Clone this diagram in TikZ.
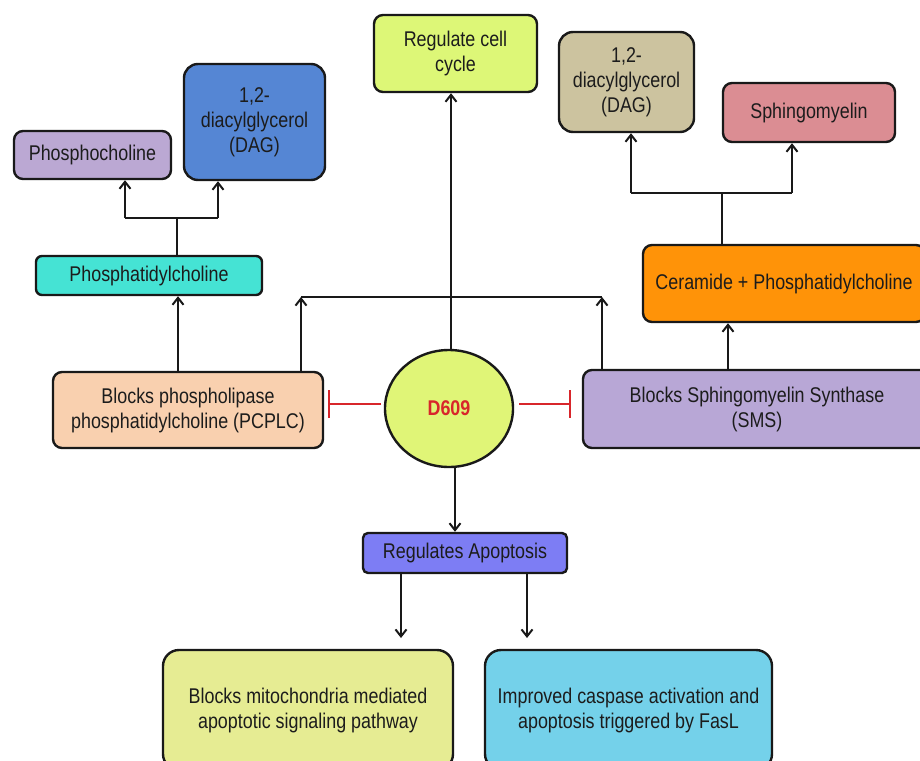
\documentclass[tikz,border=0pt]{standalone}
\usepackage{fontspec}
\setmainfont{Liberation Sans}[FakeStretch=0.84]
\usetikzlibrary{arrows.meta,shapes.geometric}
\definecolor{cPhc}{HTML}{BBA8D3}
\definecolor{cDagL}{HTML}{5586D4}
\definecolor{cPtc}{HTML}{45E3D4}
\definecolor{cCC}{HTML}{DDF777}
\definecolor{cDagR}{HTML}{CCC39F}
\definecolor{cSph}{HTML}{DB8D93}
\definecolor{cCer}{HTML}{FF9308}
\definecolor{cPcplc}{HTML}{F9D0AF}
\definecolor{cD}{HTML}{E0F577}
\definecolor{cSms}{HTML}{B8A7D6}
\definecolor{cRa}{HTML}{7D7DF4}
\definecolor{cBl}{HTML}{E6EC93}
\definecolor{cBr}{HTML}{74D1EA}
\definecolor{cTxt}{HTML}{1C1C1C}
\definecolor{cRed}{HTML}{D8262B}
\begin{document}
\begin{tikzpicture}[x=1pt,y=-1pt,
  box/.style={draw=black!90,line width=2.4pt,rounded corners=9pt,align=center,
    text=cTxt,inner sep=0pt,font=\fontsize{21.3}{25}\selectfont},
  line/.style={draw=black!90,line width=2pt},
  arr/.style={line,-{Straight Barb[length=7pt,width=11pt,line width=2pt]}},
  inh/.style={draw=cRed,line width=2pt,-{Bar[width=28pt,line width=2pt]}}]
\useasboundingbox (0,0) rectangle (920,760);
% nodes
\node[box,fill=cPhc,minimum width=157pt,minimum height=48pt] (phc) at (92.5,155) {Phosphocholine};
\node[box,fill=cDagL,minimum width=141pt,minimum height=116pt,rounded corners=14pt] (dagL) at (254.5,122) {1,2-\\diacylglycerol\\(DAG)};
\node[box,fill=cPtc,minimum width=226pt,minimum height=39pt,rounded corners=6pt] (ptc) at (149,275.5) {Phosphatidylcholine};
\node[box,fill=cCC,minimum width=163pt,minimum height=77pt] (cc) at (455.5,53.5) {Regulate cell\\cycle};
\node[box,fill=cDagR,minimum width=135pt,minimum height=100pt,rounded corners=14pt] (dagR) at (626.5,82) {1,2-\\diacylglycerol\\(DAG)};
\node[box,fill=cSph,minimum width=172pt,minimum height=59pt] (sph) at (809,112.5) {Sphingomyelin};
\node[box,fill=cCer,minimum width=282pt,minimum height=77pt] (cer) at (784,283.5) {Ceramide + Phosphatidylcholine};
\node[box,fill=cPcplc,minimum width=270pt,minimum height=76pt] (pcplc) at (188,410) {Blocks phospholipase\\phosphatidylcholine (PCPLC)};
\node[box,fill=cSms,minimum width=348pt,minimum height=78pt] (sms) at (757,409) {Blocks Sphingomyelin Synthase\\(SMS)};
\node[ellipse,draw=black!90,line width=2.4pt,fill=cD,minimum width=128pt,minimum height=117pt,inner sep=0pt,
  text=cRed,font=\fontsize{21.3}{25}\selectfont\bfseries] (d) at (449,408.5) {D609};
\node[box,fill=cRa,minimum width=204pt,minimum height=40pt,rounded corners=5pt] (ra) at (465,553) {Regulates Apoptosis};
\node[box,fill=cBl,minimum width=290pt,minimum height=120pt,rounded corners=16pt] (bl) at (308,710) {Blocks mitochondria mediated\\apoptotic signaling pathway};
\node[box,fill=cBr,minimum width=287pt,minimum height=120pt,rounded corners=16pt] (br) at (628.5,710) {Improved caspase activation and\\apoptosis triggered by FasL};
% coordinates
\coordinate (j1) at (177,218);
\coordinate (j1L) at (125,218);
\coordinate (j1R) at (218,218);
\coordinate (j2) at (722,193);
\coordinate (j2L) at (631,193);
\coordinate (j2R) at (792,193);
\coordinate (hL) at (301,297);
\coordinate (hR) at (602,297);
\coordinate (pc1) at (178,0);
\coordinate (sm1) at (728,0);
\coordinate (dT) at (451,0);
\coordinate (dB) at (455,0);
\coordinate (iL) at (381,404);
\coordinate (iLe) at (328,404);
\coordinate (iR) at (519,404);
\coordinate (iRe) at (571,404);
\coordinate (aL) at (401,638);
\coordinate (aR) at (527,638);
% connectors left
\draw[line] (ptc.north -| j1) -- (j1);
\draw[line] (j1L) -- (j1R);
\draw[arr] (j1L) -- (j1L |- phc.south);
\draw[arr] (j1R) -- (j1R |- dagL.south);
\draw[arr] (pcplc.north -| pc1) -- (pc1 |- ptc.south);
\draw[arr] (pcplc.north -| hL) -- (hL);
\draw[arr] (sms.north -| hR) -- (hR);
\draw[line] (hL) -- (hR);
\draw[arr] (d.north -| dT) -- (dT |- cc.south);
% right
\draw[arr] (sms.north -| sm1) -- (sm1 |- cer.south);
\draw[line] (cer.north -| j2) -- (j2);
\draw[line] (j2L) -- (j2R);
\draw[arr] (j2L) -- (j2L |- dagR.south);
\draw[arr] (j2R) -- (j2R |- sph.south);
% inhibitions
\draw[inh] (iL) -- (iLe);
\draw[inh] (iR) -- (iRe);
% apoptosis
\draw[arr] (d.south -| dB) -- (dB |- ra.north);
\draw[arr] (ra.south -| aL) -- (aL);
\draw[arr] (ra.south -| aR) -- (aR);
\end{tikzpicture}
\end{document}
